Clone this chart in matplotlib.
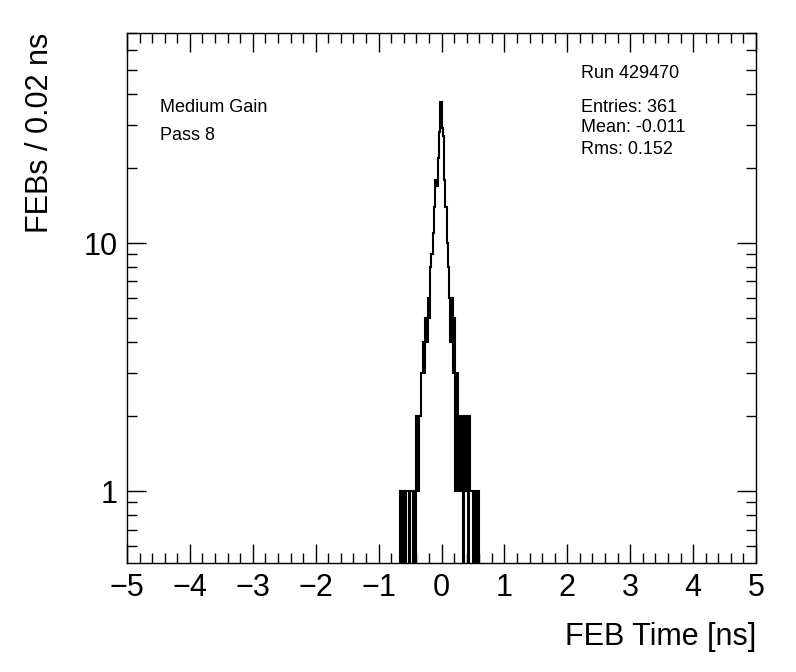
import numpy as np
import matplotlib.pyplot as plt
from matplotlib.ticker import MultipleLocator, FixedLocator, NullFormatter

plt.rcParams['font.family'] = ['Liberation Sans', 'DejaVu Sans']

# histogram content: 0.02 ns bins starting at -0.66 ns
bin_width = 0.02
first_edge = -0.66
counts = [1, 0, 1, 1, 0, 1, 1, 0, 1, 1, 0, 1, 0,
          2, 1, 2, 2,
          3, 4, 3, 5, 4, 6, 5,
          8, 9, 11, 14, 18, 17, 22, 28, 37,
          29, 27, 18, 14, 10, 8, 6,
          4, 6, 3, 5, 1, 3, 1,
          2, 1, 2, 0, 2, 1, 2, 0, 2, 1, 1, 0, 1, 0, 1, 1]

run_label = "Run 429470"
gain_label = "Medium Gain"
pass_label = "Pass 8"
stats = ["Entries: 361", "Mean: -0.011", "Rms: 0.152"]

# full -5..5 ns histogram
edges = np.linspace(-5, 5, 501)
values = np.zeros(500)
i0 = int(round((first_edge + 5) / bin_width))
values[i0:i0 + len(counts)] = counts
values = np.where(values > 0, values, 1e-3)  # empty bins drop below the frame

fig = plt.figure(figsize=(7.96, 6.72), dpi=100)
ax = fig.add_axes([127/796, 1 - 563/672, 629/796, 530/672])

ax.stairs(values, edges, baseline=None, color='black', lw=1.5)

ax.set_xlim(-5, 5)
ax.set_yscale('log')
ax.set_ylim(0.513, 70.3)

ax.xaxis.set_major_locator(MultipleLocator(1))
ax.xaxis.set_minor_locator(MultipleLocator(0.2))
ax.yaxis.set_major_locator(FixedLocator([1, 10]))
ax.set_yticklabels(['1', '10'])
minor_y = [v * d for d in (0.1, 1, 10) for v in range(2, 10)]
ax.yaxis.set_minor_locator(FixedLocator(minor_y))
ax.yaxis.set_minor_formatter(NullFormatter())

ax.tick_params(which='both', direction='in', top=True, right=True, width=1)
ax.tick_params(which='major', length=14, labelsize=22, pad=7)
ax.tick_params(which='minor', length=7)
for s in ax.spines.values():
    s.set_linewidth(1)

fig.text(40/796, 1 - 33/672, 'FEBs / 0.02 ns', rotation=90, ha='center', va='top', fontsize=22)
fig.text(756/796, 1 - 637/672, 'FEB Time [ns]', ha='right', va='center', fontsize=22)

fig.text(160/796, 1 - 107/672, gain_label, ha='left', va='center', fontsize=13)
fig.text(160/796, 1 - 135/672, pass_label, ha='left', va='center', fontsize=13)
fig.text(581/796, 1 - 74/672, run_label, ha='left', va='center', fontsize=13)
for k, s in enumerate(stats):
    fig.text(581/796, 1 - (107 + 21*k)/672, s, ha='left', va='center', fontsize=13)

fig.savefig('out.png', dpi=100)
